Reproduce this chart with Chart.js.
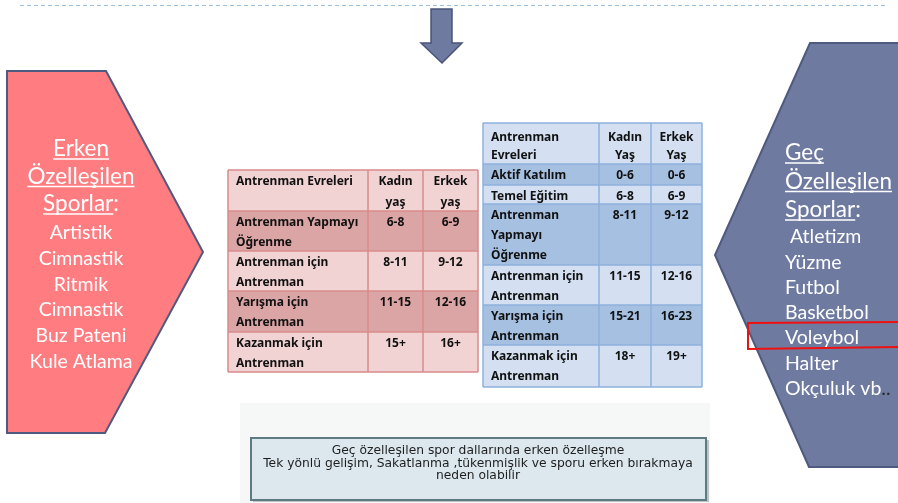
<!DOCTYPE html>
<html>
<head>
<meta charset="utf-8">
<script src="https://cdn.jsdelivr.net/npm/chart.js@4.4.1/dist/chart.umd.min.js"></script>
<style>
  html, body { margin: 0; padding: 0; background: #ffffff; }
  #wrap { width: 898px; height: 503px; }
</style>
</head>
<body>
<div id="wrap"><canvas id="slide" width="898" height="503"></canvas></div>
<script>
// metin ve tablo verileri
const earlyTitle = ['Erken', 'Özelleşilen', 'Sporlar'];
const earlySports = ['Artistik', 'Cimnastik', 'Ritmik', 'Cimnastik', 'Buz Pateni', 'Kule Atlama'];
const lateTitle = ['Geç', 'Özelleşilen', 'Sporlar'];
const lateSports = [' Atletizm', 'Yüzme', 'Futbol', 'Basketbol', 'Voleybol', 'Halter', 'Okçuluk vb'];

const pinkHeader = [['Antrenman Evreleri'], ['Kadın', 'yaş'], ['Erkek', 'yaş']];
const pinkStages = [['Antrenman Yapmayı', 'Öğrenme'], ['Antrenman için', 'Antrenman'], ['Yarışma için', 'Antrenman'], ['Kazanmak için', 'Antrenman']];
const pinkFemale = ['6-8', '8-11', '11-15', '15+'];
const pinkMale = ['6-9', '9-12', '12-16', '16+'];

const blueHeader = [['Antrenman', 'Evreleri'], ['Kadın', 'Yaş'], ['Erkek', 'Yaş']];
const blueStages = [['Aktif Katılım'], ['Temel Eğitim'], ['Antrenman', 'Yapmayı', 'Öğrenme'], ['Antrenman için', 'Antrenman'], ['Yarışma için', 'Antrenman'], ['Kazanmak için', 'Antrenman']];
const blueFemale = ['0-6', '6-8', '8-11', '11-15', '15-21', '18+'];
const blueMale = ['0-6', '6-9', '9-12', '12-16', '16-23', '19+'];

const noteLines = ['Geç özelleşilen spor dallarında erken özelleşme', 'Tek yönlü gelişim, Sakatlanma ,tükenmişlik ve sporu erken bırakmaya', 'neden olabilir'];

// yerleşim (piksel cinsinden, eksen birimleri)
const pinkLayout = { cols: [228, 368, 423, 478], rows: [170, 211, 251, 291, 332, 372], first: 12, step: 19.5,
  headFirst: 12, headStep: 21, light: '#f1d3d4', dark: '#dba4a5', border: '#d98b8d' };
const blueLayout = { cols: [483, 599, 651, 702], rows: [123, 164, 185, 204, 265, 305, 345, 387], first: 12, step: 20,
  headFirst: 15, headStep: 18, light: '#d4e0f1', dark: '#a6c0e2', border: '#8eb0dc' };

const slidePlugin = {
  id: 'slide',
  afterDraw(chart) {
    const ctx = chart.ctx;
    const sx = chart.scales.x, sy = chart.scales.y;
    const X = v => sx.getPixelForValue(v);
    const Y = v => sy.getPixelForValue(v);

    const poly = (pts, fill, stroke, lw) => {
      ctx.beginPath();
      pts.forEach((p, i) => i ? ctx.lineTo(X(p[0]), Y(p[1])) : ctx.moveTo(X(p[0]), Y(p[1])));
      ctx.closePath();
      if (fill) { ctx.fillStyle = fill; ctx.fill(); }
      if (stroke) { ctx.strokeStyle = stroke; ctx.lineWidth = lw; ctx.stroke(); }
    };

    ctx.save();

    // üst kesikli çizgi
    ctx.strokeStyle = '#9cc0de';
    ctx.lineWidth = 1;
    ctx.setLineDash([4, 3]);
    ctx.beginPath();
    ctx.moveTo(X(20), Y(5.5));
    ctx.lineTo(X(886), Y(5.5));
    ctx.stroke();
    ctx.setLineDash([]);

    // aşağı ok
    poly([[431, 9], [452, 9], [452, 43], [462, 43], [442, 63], [421, 43], [431, 43]], '#6f7aa0', '#4b5479', 1.5);

    // sol beşgen
    poly([[7, 71], [106, 71], [203, 252], [105, 433], [7, 433]], '#ff7c80', '#4f5a80', 2);

    // sağ altıgen
    poly([[810, 43], [905, 43], [905, 467], [809, 467], [715, 255]], '#6f7aa0', '#4f5a80', 2);

    // metinler
    const gill = '"Lato", "Open Sans", sans-serif';
    ctx.textBaseline = 'middle';
    ctx.fillStyle = '#ffffff';

    const underline = (x, y, w) => {
      ctx.strokeStyle = '#ffffff';
      ctx.lineWidth = 1.3;
      ctx.beginPath();
      ctx.moveTo(x, y + 10);
      ctx.lineTo(x + w, y + 10);
      ctx.stroke();
    };

    // sol blok
    ctx.font = '22.5px ' + gill;
    earlyTitle.forEach((t, i) => {
      const y = Y(149 + i * 27.5);
      const colon = i === 2 ? ':' : '';
      const w = ctx.measureText(t).width;
      const full = ctx.measureText(t + colon).width;
      const x0 = X(81) - full / 2;
      ctx.textAlign = 'left';
      ctx.fillText(t + colon, x0, y);
      underline(x0, y, w);
    });
    ctx.font = '19.5px ' + gill;
    ctx.textAlign = 'center';
    earlySports.forEach((t, i) => ctx.fillText(t, X(81), Y(233 + i * 25.7)));

    // sağ blok
    ctx.textAlign = 'left';
    ctx.font = '22.5px ' + gill;
    lateTitle.forEach((t, i) => {
      const y = Y(153 + i * 28.5);
      const colon = i === 2 ? ':' : '';
      const w = ctx.measureText(t).width;
      ctx.fillText(t + colon, X(785), y);
      underline(X(785), y, w);
    });
    ctx.font = '19.5px ' + gill;
    lateSports.forEach((t, i) => {
      const y = Y(237 + i * 25.3);
      ctx.fillStyle = '#ffffff';
      ctx.fillText(t, X(785), y);
      if (i === lateSports.length - 1) {
        ctx.fillStyle = '#2a2a2a';
        ctx.fillText('..', X(785) + ctx.measureText(t).width, y);
      }
    });

    // kırmızı çerçeve
    ctx.strokeStyle = '#ee1111';
    ctx.lineWidth = 2;
    ctx.beginPath();
    ctx.moveTo(X(900), Y(322));
    ctx.lineTo(X(748), Y(323));
    ctx.lineTo(X(748), Y(349));
    ctx.lineTo(X(900), Y(347));
    ctx.stroke();

    // tablolar
    const drawTable = (L, header, stages, female, male) => {
      const rowsText = [header].concat(stages.map((s, i) => [s, [female[i]], [male[i]]]));
      rowsText.forEach((row, r) => {
        const top = L.rows[r], bot = L.rows[r + 1];
        ctx.fillStyle = (r % 2 === 1) ? L.dark : L.light;
        ctx.fillRect(X(L.cols[0]), Y(top), X(L.cols[3]) - X(L.cols[0]), Y(bot) - Y(top));
      });
      ctx.strokeStyle = L.border;
      ctx.lineWidth = 1.5;
      L.rows.forEach(y => {
        ctx.beginPath(); ctx.moveTo(X(L.cols[0]), Y(y)); ctx.lineTo(X(L.cols[3]), Y(y)); ctx.stroke();
      });
      L.cols.forEach(x => {
        ctx.beginPath(); ctx.moveTo(X(x), Y(L.rows[0])); ctx.lineTo(X(x), Y(L.rows[L.rows.length - 1])); ctx.stroke();
      });
      ctx.fillStyle = '#111111';
      ctx.font = 'bold 12px "Noto Sans", "Open Sans", sans-serif';
      rowsText.forEach((row, r) => {
        const top = L.rows[r] + (r === 0 ? L.headFirst : L.first);
        const step = r === 0 ? L.headStep : L.step;
        row.forEach((lines, c) => {
          lines.forEach((t, k) => {
            if (c === 0) {
              ctx.textAlign = 'left';
              ctx.fillText(t, X(L.cols[0] + 8), Y(top + k * step));
            } else {
              ctx.textAlign = 'center';
              ctx.fillText(t, X((L.cols[c] + L.cols[c + 1]) / 2), Y(top + k * step));
            }
          });
        });
      });
    };
    drawTable(pinkLayout, pinkHeader, pinkStages, pinkFemale, pinkMale);
    drawTable(blueLayout, blueHeader, blueStages, blueFemale, blueMale);

    // alt not kutusu
    ctx.fillStyle = '#f6f7f7';
    ctx.fillRect(X(240), Y(403), X(710) - X(240), Y(503) - Y(403));
    ctx.fillStyle = 'rgba(80,100,105,0.35)';
    ctx.fillRect(X(253), Y(440), X(709) - X(253), Y(502) - Y(440));
    ctx.fillStyle = '#dce8ee';
    ctx.fillRect(X(251), Y(438), X(706) - X(251), Y(500) - Y(438));
    ctx.strokeStyle = '#5e7b82';
    ctx.lineWidth = 2;
    ctx.strokeRect(X(251), Y(438), X(706) - X(251), Y(500) - Y(438));
    ctx.fillStyle = '#1e1e1e';
    ctx.font = '12.3px "DejaVu Sans", sans-serif';
    ctx.textAlign = 'center';
    noteLines.forEach((t, i) => ctx.fillText(t, X(478), Y(451 + i * 12.6)));

    ctx.restore();
  }
};

new Chart(document.getElementById('slide'), {
  type: 'scatter',
  data: { datasets: [] },
  options: {
    responsive: false,
    animation: false,
    devicePixelRatio: 1,
    layout: { padding: 0 },
    plugins: { legend: { display: false }, tooltip: { enabled: false } },
    scales: {
      x: { type: 'linear', min: 0, max: 898, display: false },
      y: { type: 'linear', min: 0, max: 503, reverse: true, display: false }
    }
  },
  plugins: [slidePlugin]
});
</script>
</body>
</html>
